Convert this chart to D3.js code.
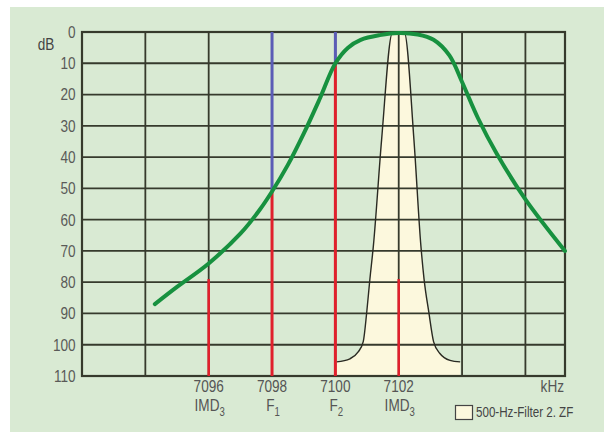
<!DOCTYPE html>
<html>
<head>
<meta charset="utf-8">
<script src="https://cdn.jsdelivr.net/npm/d3@7"></script>
<style>
	body { margin: 0; background: #fff; }
	text { font-family: "Liberation Sans", Arial, sans-serif; }
</style>
</head>
<body>
<div id="chart-area"></div>
<script>
// tick values
const dbTicks = [0, 10, 20, 30, 40, 50, 60, 70, 80, 90, 100, 110];
const gridKHz = [7094, 7096, 7098, 7100, 7102, 7104, 7106];

// signal labels
const sigKHz = [7096, 7098, 7100, 7102];
const sigName = ["IMD", "F", "F", "IMD"];
const sigSub = ["3", "1", "2", "3"];
const sigLevel = [79, 51, 10, 79];
const sigIsTone = [false, true, true, false];

// IF-filter curve (green)
const curveKHz = [7094.3, 7095, 7096, 7097, 7097.6, 7098, 7098.5, 7099, 7099.5, 7100, 7100.4, 7100.8, 7101.4, 7102, 7102.6, 7103.1, 7103.6, 7104, 7104.5, 7105.1, 7106, 7107.25];
const curveDB = [87, 81.5, 74, 64.5, 57, 51, 42.5, 32.5, 21.5, 10, 5, 2.5, 1, 0.3, 0.8, 2.5, 7.5, 16, 27.5, 39, 53.5, 70];

// 500 Hz filter (2nd IF)
const filterKHz = [7100.04, 7100.46, 7100.72, 7100.88, 7100.99, 7101.09, 7101.2, 7101.46, 7101.8, 7102.18, 7102.48, 7102.7, 7102.8, 7102.95, 7103.1, 7103.3, 7103.62, 7103.94];
const filterDB = [105.5, 104.5, 102.3, 99, 89.6, 79, 68.4, 34.4, 0.3, 0.3, 34.4, 68.4, 79, 89.6, 99, 102.8, 105, 105.5];

const legendText = "500-Hz-Filter 2. ZF";

const W = 604, H = 432;
const NARROW = 0.8; // condensed look

let svg = d3.select("#chart-area").append("svg")
	.attr("width", W)
	.attr("height", H);

// narrow text helper
function label(px, py, txt, size, anchor, color) {
	let t = svg.append("g")
		.attr("transform", "translate(" + px + "," + py + ") scale(" + NARROW + ",1)")
		.append("text")
		.attr("text-anchor", anchor)
		.attr("fill", color)
		.style("font-size", size + "px");
	if (txt !== null) t.text(txt);
	return t;
}

// panel background
svg.append("rect")
	.attr("x", 10).attr("y", 7)
	.attr("width", W - 10).attr("height", H - 7)
	.attr("fill", "#d9ead3");

// scales
let x = d3.scaleLinear().domain([7092, 7107.25]).range([82, 565]);
let y = d3.scaleLinear().domain([0, 110]).range([32, 376]);

let filterLine = d3.line().x(d => x(d[0])).y(d => y(d[1])).curve(d3.curveMonotoneX);
let filterPts = filterKHz.map((k, i) => [k, filterDB[i]]);

// filter fill
let fillPts = filterPts.slice();
fillPts.push([filterKHz[filterKHz.length - 1], 110]);
svg.append("path")
	.attr("d", filterLine(fillPts) + "L" + x(filterKHz[0]) + "," + y(110) + "Z")
	.attr("fill", "#fcf8dd");

// grid
let grid = svg.append("g").attr("stroke", "#363a2c").attr("stroke-width", 1.8);
grid.selectAll(".gv").data(gridKHz).enter().append("line")
	.attr("x1", d => x(d)).attr("x2", d => x(d))
	.attr("y1", y(0)).attr("y2", y(110));
grid.selectAll(".gh").data(dbTicks.slice(1, -1)).enter().append("line")
	.attr("x1", x(7092)).attr("x2", x(7107.25))
	.attr("y1", d => y(d)).attr("y2", d => y(d));
grid.append("rect")
	.attr("x", x(7092)).attr("y", y(0))
	.attr("width", x(7107.25) - x(7092)).attr("height", y(110) - y(0))
	.attr("fill", "none").attr("stroke-width", 2.2);

// filter outline
svg.append("path")
	.attr("d", filterLine(filterPts))
	.attr("fill", "none")
	.attr("stroke", "#2a2a22")
	.attr("stroke-width", 1.4);

// signal lines
sigKHz.forEach((k, i) => {
	if (sigIsTone[i]) {
		svg.append("line")
			.attr("x1", x(k)).attr("x2", x(k))
			.attr("y1", y(0)).attr("y2", y(sigLevel[i]))
			.attr("stroke", "#5b5cb6").attr("stroke-width", 3);
	}
	svg.append("line")
		.attr("x1", x(k)).attr("x2", x(k))
		.attr("y1", y(sigLevel[i])).attr("y2", y(110))
		.attr("stroke", "#e0202c").attr("stroke-width", sigIsTone[i] ? 3 : 2.6);
});

// green curve
svg.append("path")
	.attr("d", d3.line().x((d, i) => x(d)).y((d, i) => y(curveDB[i])).curve(d3.curveCatmullRom)(curveKHz))
	.attr("fill", "none")
	.attr("stroke", "#17913f")
	.attr("stroke-width", 4)
	.attr("stroke-linecap", "round");

// y axis labels
let yAxis = d3.axisLeft(y).tickValues(dbTicks).tickSize(0).tickPadding(8);
let ya = svg.append("g")
	.attr("transform", "translate(" + x(7092) + ",0)")
	.call(yAxis);
ya.select(".domain").remove();
ya.selectAll("text")
	.attr("transform", "scale(" + NARROW + ",1)")
	.attr("fill", "#5a5a58")
	.style("font-size", "17px")
	.style("font-family", "'Liberation Sans', Arial, sans-serif");

label(46, 50, "dB", 17, "middle", "#444");

// x labels
sigKHz.forEach((k, i) => {
	label(x(k), 392, k, 17, "middle", "#555");
	let t = label(x(k) + 1, 411, null, 17, "middle", "#555");
	t.append("tspan").text(sigName[i]);
	t.append("tspan").attr("dy", 5).style("font-size", "12px").text(sigSub[i]);
});

label(564, 392, "kHz", 17, "end", "#555");

// legend
svg.append("rect")
	.attr("x", 455.5).attr("y", 405.5)
	.attr("width", 17).attr("height", 14)
	.attr("fill", "#fcf8dd")
	.attr("stroke", "#444")
	.attr("stroke-width", 1.2);
label(476, 417, legendText, 14.5, "start", "#444");
</script>
</body>
</html>
